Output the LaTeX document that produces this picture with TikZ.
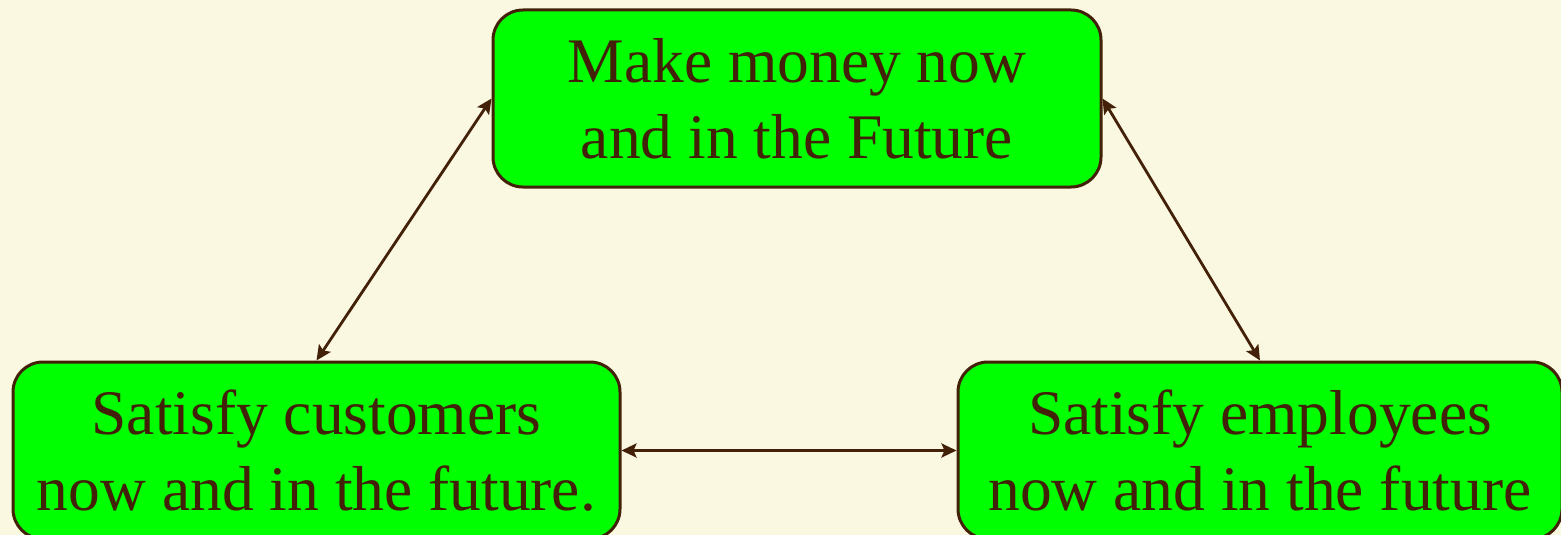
\documentclass[tikz,border=0pt]{standalone}
\usepackage{fontspec}
\setmainfont{Liberation Serif}
\usetikzlibrary{arrows.meta}
\definecolor{bgc}{RGB}{250,248,225}
\definecolor{ink}{RGB}{66,33,8}
\definecolor{boxg}{RGB}{0,255,0}
\tikzset{
  goal/.style={draw=ink, fill=boxg, line width=3pt, rounded corners=30pt,
    minimum height=177pt, inner sep=0pt, align=center, text=ink,
    font=\fontsize{63.5}{76}\selectfont},
  link/.style={draw=ink, line width=2.8pt, {Stealth[length=15pt,width=14pt,inset=3pt]}-{Stealth[length=15pt,width=14pt,inset=3pt]}}
}
\begin{document}
\begin{tikzpicture}[x=1pt,y=-1pt]
\fill[bgc] (0,0) rectangle (1561,535);
\useasboundingbox (0,0) rectangle (1561,535);
\node[goal, minimum width=608pt] (top) at (797,98.5) {Make money now\\and in the Future};
\node[goal, minimum width=607pt] (bl) at (316.5,450.5) {Satisfy customers\\now and in the future.};
\node[goal, minimum width=604pt] (br) at (1260,450.5) {Satisfy employees\\now and in the future};
\draw[link] (top.west) -- (bl.north);
\draw[link] (top.east) -- (br.north);
\draw[link] (bl.east) -- (br.west);
\end{tikzpicture}
\end{document}
